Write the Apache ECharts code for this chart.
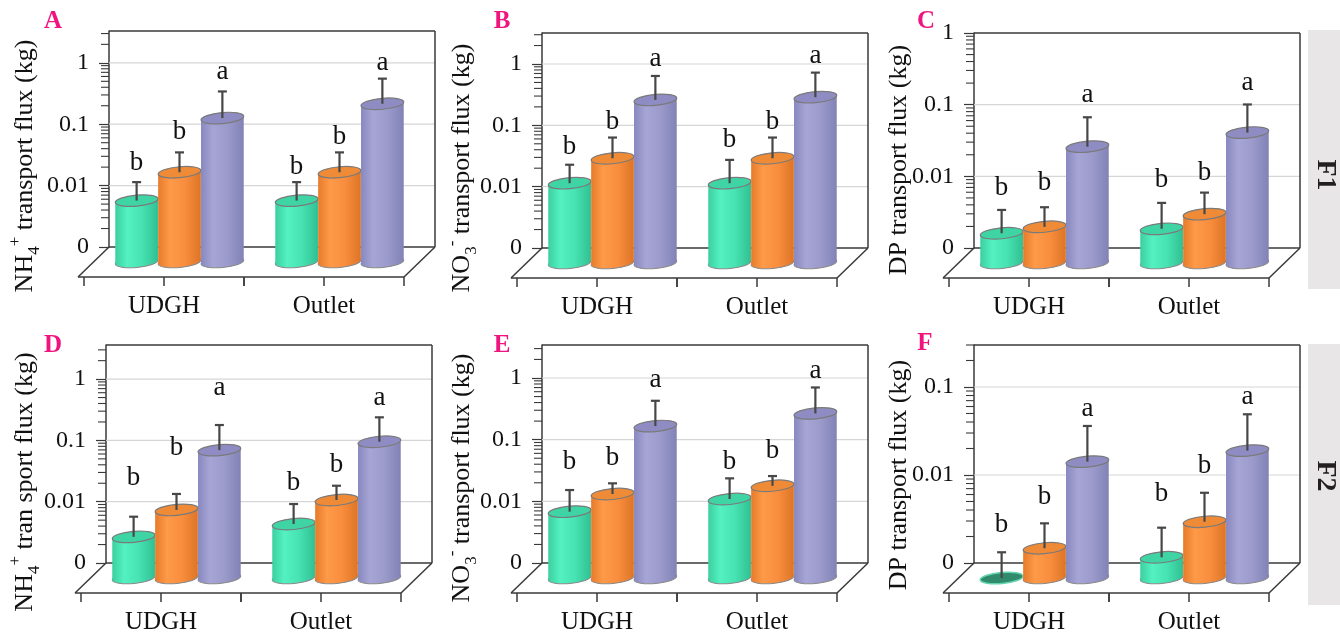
<!DOCTYPE html>
<html>
<head>
<meta charset="utf-8">
<title>Transport flux</title>
<script src="https://cdn.jsdelivr.net/npm/echarts@6.0.0/dist/echarts.min.js"></script>
<style>
  html, body { margin: 0; padding: 0; background: #fff; }
  #chart { width: 1340px; height: 633px; }
</style>
</head>
<body>
<div id="chart"></div>
<script>
/* ── data ── */
const CATEGORIES = ["UDGH", "Outlet"];
const LETTERS = ["b", "b", "a"];                 // green, orange, purple
const TICK_VALUES = [0.001, 0.01, 0.1, 1];
const TICK_LABELS = ["0", "0.01", "0.1", "1"];
const GRID_VALUES = [0.01, 0.1, 1];
const MINOR_STEPS = [2, 3, 4, 5, 6, 7, 8, 9];

// rows: green, orange, purple   columns: UDGH, Outlet
const MEAN_A = [[0.010, 0.010], [0.029, 0.029], [0.221, 0.378]];
const HIGH_A = [[0.020, 0.020], [0.061, 0.061], [0.60, 0.97]];
const LETTER_AT_A = [[0.041, 0.036], [0.134, 0.111], [1.27, 1.78]];

const MEAN_B = [[0.020, 0.020], [0.051, 0.051], [0.456, 0.505]];
const HIGH_B = [[0.040, 0.048], [0.111, 0.111], [1.12, 1.27]];
const LETTER_AT_B = [[0.079, 0.10], [0.202, 0.202], [2.1, 2.38]];

const MEAN_C = [[0.0026, 0.0030], [0.0032, 0.0048], [0.042, 0.066]];
const HIGH_C = [[0.0055, 0.0069], [0.0060, 0.0096], [0.108, 0.163]];
const LETTER_AT_C = [[0.011, 0.0144], [0.0132, 0.0182], [0.225, 0.327]];

const MEAN_D = [[0.0047, 0.0076], [0.0129, 0.0187], [0.122, 0.167]];
const HIGH_D = [[0.0100, 0.0161], [0.0235, 0.032], [0.313, 0.418]];
const LETTER_AT_D = [[0.0423, 0.0359], [0.131, 0.0697], [1.24, 0.855]];

const MEAN_E = [[0.0119, 0.0191], [0.023, 0.0313], [0.291, 0.467]];
const HIGH_E = [[0.0267, 0.0413], [0.0343, 0.045], [0.748, 1.23]];
const LETTER_AT_E = [[0.0767, 0.0767], [0.0871, 0.114], [1.62, 2.29]];

const MEAN_F = [[0.0009, 0.00172], [0.00218, 0.00436], [0.021, 0.028]];
const HIGH_F = [[0.00196, 0.00373], [0.00418, 0.0093], [0.0534, 0.0725]];
const LETTER_AT_F = [[0.0040, 0.0090], [0.0084, 0.0187], [0.0826, 0.113]];

const TITLE_NH4 = "{t|NH}{sub|4}{sup|+}{t| transport flux (kg)}";
const TITLE_NH4_D = "{t|NH}{sub|4}{sup|+}{t| tran sport flux (kg)}";
const TITLE_NO3 = "{t|NO}{sub|3}{sup|-}{t| transport flux (kg)}";
const TITLE_DP = "{t|DP transport flux (kg)}";

/* ── constants ── */
const AXIS_MIN = 0.001;
const DEPTH_DX = -31, DEPTH_DY = 30;          // floor depth (oblique)
const HALF_DX = DEPTH_DX / 2, HALF_DY = DEPTH_DY / 2;
const AXIS_OFFSET = 6;
const BAR_FRACTION = 0.268;
const TILT = 0.09;
const ELLIPSE_RY = 5.5;
const SERIF = '"Liberation Serif", "Times New Roman", "DejaVu Serif", serif';
const INK = "#3a3a3a";
const GRID_LINE = "#d6d6d6";
const TAG_COLOR = "#f0147e";

const BODY_STOPS = [
  ["#3ccf9f", "#54f1c1", "#47e3b2", "#31bf94"],
  ["#e67b2b", "#fe9a49", "#f98e3d", "#dd7427"],
  ["#8988bf", "#a6a5d5", "#9b9acb", "#8382b6"],
];
const TOP_FILL = ["#3fd4a4", "#ef8a37", "#8e8cc3"];
const SUNK_FILL = "#2f8b6b";

const PANELS = [
  { tag: "A", left: 115, top: 31, height: 216, max: 3.3, mean: MEAN_A, high: HIGH_A, letterAt: LETTER_AT_A, title: TITLE_NH4, titleX: 25, titleY: 166, tagX: 53, tagY: 22 },
  { tag: "B", left: 548, top: 33, height: 215, max: 3.2, mean: MEAN_B, high: HIGH_B, letterAt: LETTER_AT_B, title: TITLE_NO3, titleX: 462, titleY: 168, tagX: 502, tagY: 22 },
  { tag: "C", left: 980, top: 33, height: 215, max: 1, mean: MEAN_C, high: HIGH_C, letterAt: LETTER_AT_C, title: TITLE_DP, titleX: 899, titleY: 160, tagX: 926, tagY: 22 },
  { tag: "D", left: 112, top: 345, height: 218, max: 3.6, mean: MEAN_D, high: HIGH_D, letterAt: LETTER_AT_D, title: TITLE_NH4_D, titleX: 25, titleY: 482, tagX: 53, tagY: 346 },
  { tag: "E", left: 548, top: 345, height: 218, max: 3.43, mean: MEAN_E, high: HIGH_E, letterAt: LETTER_AT_E, title: TITLE_NO3, titleX: 462, titleY: 478, tagX: 502, tagY: 346 },
  { tag: "F", left: 980, top: 345, height: 218, max: 0.3, mean: MEAN_F, high: HIGH_F, letterAt: LETTER_AT_F, title: TITLE_DP, titleX: 899, titleY: 475, tagX: 925, tagY: 344 },
];
const PLOT_WIDTH = 320;

const SIDE_BOXES = [
  { text: "F1", y: 30, height: 259, textY: 175 },
  { text: "F2", y: 344, height: 261, textY: 476 },
];

/* ── helpers ── */
function seg(x1, y1, x2, y2, color, w) {
  return { type: "line", shape: { x1, y1, x2, y2 }, style: { stroke: color, lineWidth: w } };
}

function tickLabel(v) {
  const i = TICK_VALUES.findIndex((t) => Math.abs(Math.log10(v) - Math.log10(t)) < 1e-6);
  return i >= 0 ? TICK_LABELS[i] : "";
}

function minorTicks(max) {
  const out = [];
  TICK_VALUES.forEach((d) => MINOR_STEPS.forEach((m) => { if (d * m <= max * 1.0001) out.push([0, d * m]); }));
  return out;
}

/* ── back wall + floor ── */
function frameRenderer(panel) {
  return function (params, api) {
    const cs = params.coordSys;
    const band = api.size([1, 0])[0];
    const wallL = cs.x - AXIS_OFFSET, wallR = cs.x + cs.width;
    const top = cs.y;
    const floorY = api.coord([0, AXIS_MIN])[1];
    const frontY = floorY + DEPTH_DY;
    const kids = [];
    GRID_VALUES.forEach((v) => {
      if (v >= panel.max) return;
      const y = api.coord([0, v])[1];
      kids.push(seg(wallL, y, wallR, y, GRID_LINE, 1.2));
    });
    kids.push(seg(wallL, top, wallR, top, INK, 1.5));
    kids.push(seg(wallR, top, wallR, floorY, INK, 1.5));
    kids.push(seg(wallL, floorY, wallR, floorY, INK, 1.5));
    kids.push(seg(wallL, floorY, wallL + DEPTH_DX, frontY, INK, 1.5));
    kids.push(seg(wallR, floorY, wallR + DEPTH_DX, frontY, INK, 1.5));
    kids.push(seg(wallL + DEPTH_DX, frontY, wallR + DEPTH_DX, frontY, INK, 1.5));
    CATEGORIES.forEach((name, k) => {
      const cx = api.coord([k, AXIS_MIN])[0] + DEPTH_DX;
      [-band / 2, 0, band / 2].forEach((d) => kids.push(seg(cx + d, frontY, cx + d, frontY + 9, INK, 1.5)));
      kids.push({
        type: "text", x: cx, y: frontY + 29,
        style: { text: name, fontSize: 25, fontFamily: SERIF, fill: "#111", align: "center", verticalAlign: "middle" },
      });
    });
    return { type: "group", children: kids };
  };
}

function renderMinorTick(params, api) {
  const x = params.coordSys.x - AXIS_OFFSET;
  const y = api.coord([0, api.value(1)])[1];
  return seg(x - 8, y, x, y, INK, 1.1);
}

/* ── cylinder bar + error bar + letter ── */
function cylinderRenderer(t) {
  return function (params, api) {
    const cat = api.value(0), val = api.value(1), hi = api.value(2), lab = api.value(3);
    const band = api.size([1, 0])[0];
    const w = band * BAR_FRACTION, rx = w / 2;
    const base = api.coord([cat, AXIS_MIN]);
    const cx = base[0] + HALF_DX + (t - 1) * w;
    const yBot = base[1] + HALF_DY;
    const cos = Math.cos(TILT), sin = Math.sin(TILT);
    const kids = [];
    let yTop = yBot;

    if (val < AXIS_MIN) {
      // sunk below the floor: only the top face shows
      kids.push({
        type: "ellipse", x: cx, y: yBot, rotation: TILT,
        shape: { cx: 0, cy: 0, rx, ry: ELLIPSE_RY },
        style: { fill: SUNK_FILL, stroke: "#62d3ad", lineWidth: 1.5 },
      });
    } else {
      yTop = api.coord([cat, val])[1] + HALF_DY;
      const grad = new echarts.graphic.LinearGradient(0, 0, 1, 0, [
        { offset: 0, color: BODY_STOPS[t][0] },
        { offset: 0.28, color: BODY_STOPS[t][1] },
        { offset: 0.62, color: BODY_STOPS[t][2] },
        { offset: 1, color: BODY_STOPS[t][3] },
      ]);
      kids.push({
        type: "ellipse", x: cx, y: yBot, rotation: TILT,
        shape: { cx: 0, cy: 0, rx, ry: ELLIPSE_RY },
        style: { fill: grad, stroke: "#8a8a8a", lineWidth: 1 },
      });
      kids.push({
        type: "polygon",
        shape: { points: [
          [cx - rx * cos, yTop + rx * sin], [cx - rx * cos, yBot + rx * sin],
          [cx + rx * cos, yBot - rx * sin], [cx + rx * cos, yTop - rx * sin],
        ] },
        style: { fill: grad },
      });
      kids.push({
        type: "ellipse", x: cx, y: yTop, rotation: TILT,
        shape: { cx: 0, cy: 0, rx, ry: ELLIPSE_RY },
        style: { fill: TOP_FILL[t], stroke: "#7a7a7a", lineWidth: 1.2 },
      });
    }

    const yHi = api.coord([cat, hi])[1] + HALF_DY;
    kids.push(seg(cx, yTop, cx, yHi, "#474747", 2.2));
    kids.push(seg(cx - 4.5, yHi, cx + 4.5, yHi, "#474747", 2.2));

    const yLab = api.coord([cat, lab])[1] + HALF_DY;
    kids.push({
      type: "text", x: cx, y: yLab,
      style: { text: LETTERS[t], fontSize: 27, fontFamily: SERIF, fill: "#111", align: "center", verticalAlign: "middle" },
    });
    return { type: "group", children: kids };
  };
}

/* ── option ── */
const series = [];
PANELS.forEach((p, i) => {
  series.push({
    type: "custom", xAxisIndex: i, yAxisIndex: i, z: 1, silent: true,
    renderItem: frameRenderer(p), data: [[0, AXIS_MIN]],
  });
  series.push({
    type: "custom", xAxisIndex: i, yAxisIndex: i, z: 1, silent: true,
    renderItem: renderMinorTick, data: minorTicks(p.max),
  });
  [0, 1, 2].forEach((t) => {
    series.push({
      type: "custom", xAxisIndex: i, yAxisIndex: i, z: 3, silent: true,
      renderItem: cylinderRenderer(t),
      encode: { x: 0, y: 1 },
      data: CATEGORIES.map((c, k) => [k, p.mean[t][k], p.high[t][k], p.letterAt[t][k]]),
    });
  });
});

const TITLE_RICH = {
  t: { fontSize: 26, fontFamily: SERIF, lineHeight: 36 },
  sub: { fontSize: 17, fontFamily: SERIF, lineHeight: 17, verticalAlign: "bottom" },
  sup: { fontSize: 17, fontFamily: SERIF, lineHeight: 17, verticalAlign: "top" },
};

const graphics = [];
PANELS.forEach((p) => {
  graphics.push({
    type: "text", x: p.tagX, y: p.tagY,
    style: { text: p.tag, fontSize: 25, fontWeight: "bold", fontFamily: SERIF, fill: TAG_COLOR, align: "center", verticalAlign: "middle" },
  });
  graphics.push({
    type: "text", x: p.titleX, y: p.titleY, rotation: Math.PI / 2,
    style: { text: p.title, rich: TITLE_RICH, fontSize: 26, fontFamily: SERIF, fill: "#111", align: "center", verticalAlign: "middle" },
  });
});
SIDE_BOXES.forEach((b) => {
  graphics.push({ type: "rect", shape: { x: 1308, y: b.y, width: 32, height: b.height }, style: { fill: "#e8e6e6" } });
  graphics.push({
    type: "text", x: 1325, y: b.textY, rotation: -Math.PI / 2,
    style: { text: b.text, fontSize: 28, fontWeight: "bold", fontFamily: SERIF, fill: "#231f20", align: "center", verticalAlign: "middle" },
  });
});

const option = {
  animation: false,
  backgroundColor: "#fff",
  grid: PANELS.map((p) => ({ left: p.left, top: p.top, width: PLOT_WIDTH, height: p.height, outerBoundsMode: "none" })),
  xAxis: PANELS.map((p, i) => ({ type: "category", gridIndex: i, data: CATEGORIES, show: false })),
  yAxis: PANELS.map((p, i) => ({
    type: "log", logBase: 10, gridIndex: i,
    min: AXIS_MIN, max: p.max, offset: AXIS_OFFSET,
    axisLine: { show: true, lineStyle: { color: INK, width: 1.5 } },
    axisTick: { show: true, inside: false, length: 10, lineStyle: { color: INK, width: 1.2 } },
    axisLabel: {
      margin: 20, fontSize: 24, fontFamily: SERIF, color: "#111",
      showMinLabel: true, showMaxLabel: p.max === 1, formatter: tickLabel,
    },
    splitLine: { show: false },
  })),
  series,
  graphic: graphics,
};

const chart = echarts.init(document.getElementById("chart"));
chart.setOption(option);
window.addEventListener("resize", () => chart.resize());
</script>
</body>
</html>
